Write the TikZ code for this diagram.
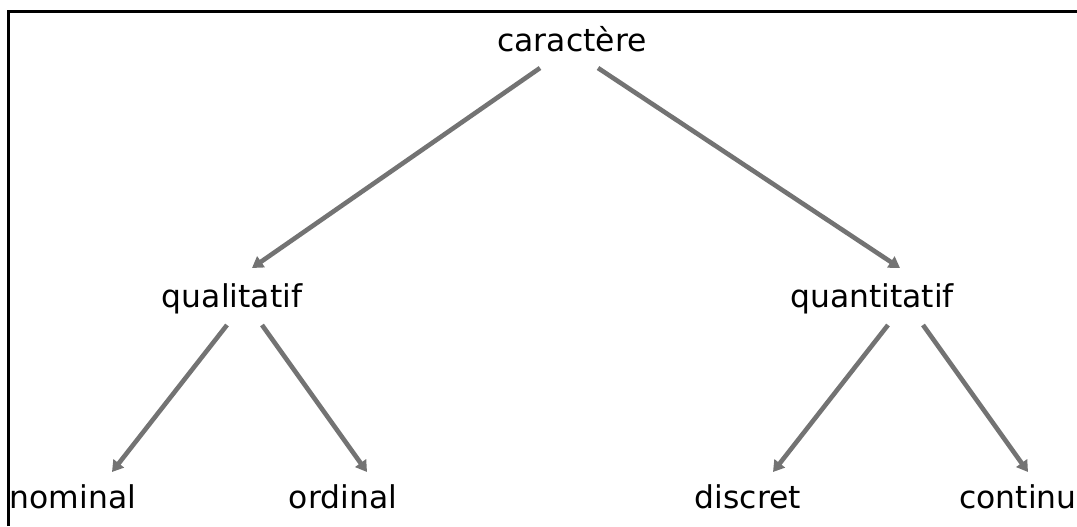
\documentclass[tikz,border=0pt]{standalone}
\usepackage{fontspec}
\setmainfont{DejaVu Sans}
\usetikzlibrary{calc,arrows.meta}

\begin{document}
\begin{tikzpicture}[x=0.5pt,y=-0.5pt,
    mot/.style={inner sep=0pt,anchor=base,font=\fontsize{15.7}{18}\selectfont},
    fleche/.style={draw=black!55,line width=2.3pt,-{Triangle[length=5.5pt,width=6.5pt]}}]
  \useasboundingbox (0,0) rectangle (1077,526);
  % cadre (haut et gauche)
  \draw[line width=1.5pt] (8,526) -- (8,11) -- (1077,11);

  \node[mot] (car) at (572,51) {caractère};
  \node[mot] (qual) at (232,307) {qualitatif};
  \node[mot] (quant) at (872,307) {quantitatif};
  \node[mot] (nom) at (73,508) {nominal};
  \node[mot] (ord) at (343,508) {ordinal};
  \node[mot] (dis) at (748,508) {discret};
  \node[mot] (con) at (1018,508) {continu};

  \draw[fleche] ($(car.base)+(-32,17)$) -- ($(qual.base)+(20,-39)$);
  \draw[fleche] ($(car.base)+(26,17)$) -- ($(quant.base)+(28,-39)$);
  \draw[fleche] ($(qual.base)+(-5,18)$) -- ($(nom.base)+(39,-36)$);
  \draw[fleche] ($(qual.base)+(30,18)$) -- ($(ord.base)+(24,-36)$);
  \draw[fleche] ($(quant.base)+(16,18)$) -- ($(dis.base)+(25,-36)$);
  \draw[fleche] ($(quant.base)+(51,18)$) -- ($(con.base)+(10,-36)$);
\end{tikzpicture}
\end{document}
